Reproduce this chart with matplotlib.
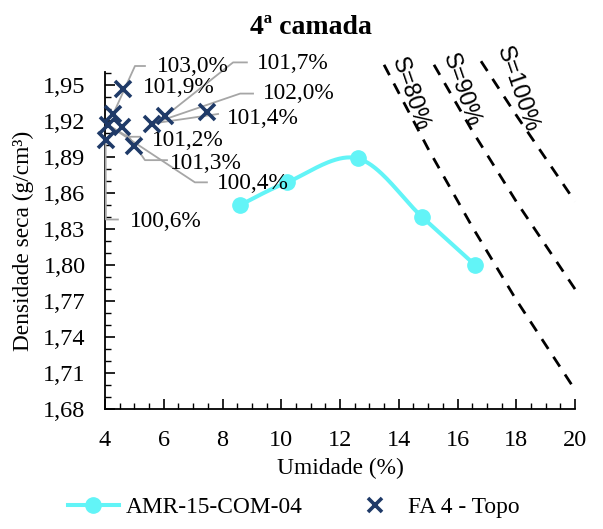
import numpy as np
import matplotlib
matplotlib.use("Agg")
import matplotlib.pyplot as plt
from matplotlib.ticker import MultipleLocator, FixedLocator, FuncFormatter
from matplotlib.lines import Line2D

# --- data -------------------------------------------------------------
# compaction curve (moisture %, dry density g/cm3)
amr_w = [8.6, 10.2, 12.6, 14.8, 16.6]
amr_d = [1.850, 1.869, 1.889, 1.840, 1.800]

# field points "FA 4 - Topo"
fa_w = [4.62, 4.28, 4.09, 4.59, 4.02, 5.00, 5.61, 6.04, 7.46]
fa_d = [1.947, 1.926, 1.917, 1.915, 1.904, 1.899, 1.918, 1.924, 1.928]

# degree-of-compaction labels: text, target point index, label position, leader elbow
fa_labels = ["101,9%", "103,0%", "101,7%", "102,0%", "101,4%",
             "101,2%", "101,3%", "100,4%", "100,6%"]
fa_label_target = [0, 1, 7, 6, 6, 2, 3, 2, 4]
fa_label_x = [5.29, 5.77, 9.16, 9.38, 8.14, 5.59, 6.21, 7.80, 4.85]
fa_label_y = [1.948, 1.966, 1.968, 1.943, 1.922, 1.904, 1.885, 1.868, 1.836]
fa_elbow_x0 = [None, 5.36, 8.83, 9.04, 7.85, 5.19, 6.11, 7.47, 4.44]
fa_elbow_x1 = [None, 5.02, 8.36, 8.60, 7.85, 4.78, 5.36, 7.06, 4.03]
fa_elbow_y = [None, 1.966, 1.969, 1.943, 1.926, 1.907, 1.8875, 1.869, 1.838]

# saturation lines
sat_names = ["S=80%", "S=90%", "S=100%"]
sat_w = [[13.5, 15.0, 16.5, 18.0, 20.0],
         [15.2, 16.5, 18.0, 20.0],
         [16.8, 18.0, 20.0]]
sat_d = [[1.967, 1.897, 1.832, 1.771, 1.696],
         [1.967, 1.912, 1.853, 1.780],
         [1.970, 1.925, 1.853]]
sat_label_x = [14.40, 16.12, 18.06]
sat_label_y = [1.943, 1.946, 1.947]

x_ticks = [4, 6, 8, 10, 12, 14, 16, 18, 20]
y_ticks = [1.68, 1.71, 1.74, 1.77, 1.80, 1.83, 1.86, 1.89, 1.92, 1.95]

title = "4ª camada"
xlabel = "Umidade (%)"
ylabel = "Densidade seca (g/cm³)"
series_names = ["AMR-15-COM-04", "FA 4 - Topo"]

# --- styles -----------------------------------------------------------
CYAN = "#62F4F7"
NAVY = "#1F3A68"
GRAY = "#A6A6A6"
SERIF = ["Liberation Serif", "DejaVu Serif"]
SANS = ["Liberation Sans", "DejaVu Sans"]
FS = 16.8

plt.rcParams["font.family"] = SERIF


def smooth(xs, ys, n=40):
    """Bezier smoothing through points (tension 1/6 control points)."""
    P = np.column_stack([xs, ys]).astype(float)
    out = []
    m = len(P)
    for i in range(m - 1):
        p0 = P[i - 1] if i > 0 else P[i]
        p1, p2 = P[i], P[i + 1]
        p3 = P[i + 2] if i + 2 < m else P[i + 1]
        c1 = p1 + (p2 - p0) / 6.0
        c2 = p2 - (p3 - p1) / 6.0
        t = np.linspace(0, 1, n)[:, None]
        seg = ((1 - t) ** 3) * p1 + 3 * ((1 - t) ** 2) * t * c1 + 3 * (1 - t) * t ** 2 * c2 + t ** 3 * p2
        out.append(seg if i == 0 else seg[1:])
    S = np.vstack(out)
    return S[:, 0], S[:, 1]


fig = plt.figure(figsize=(6.03, 5.29), dpi=100)
ax = fig.add_axes([105 / 603, 1 - 409 / 529, 470 / 603, 337 / 529])

ax.set_xlim(4, 20)
ax.set_ylim(1.68, 1.961)

# saturation lines
for w, d, name, lx, ly in zip(sat_w, sat_d, sat_names, sat_label_x, sat_label_y):
    ax.plot(w, d, color="black", lw=2.0, linestyle=(0, (4.2, 3.4)), clip_on=False, zorder=2)
    ax.text(lx, ly, name, rotation=-71, rotation_mode="anchor", ha="center", va="center",
            fontsize=FS, family=SANS, color="black", zorder=3)

# compaction curve
sx, sy = smooth(amr_w, amr_d)
ax.plot(sx, sy, color=CYAN, lw=2.9, zorder=4)
ax.plot(amr_w, amr_d, linestyle="none", marker="o", markersize=11, color=CYAN, zorder=5)

# leader lines and labels
for lab, tgt, lx, ly, ex0, ex1, ey in zip(fa_labels, fa_label_target, fa_label_x, fa_label_y,
                                          fa_elbow_x0, fa_elbow_x1, fa_elbow_y):
    if ex0 is not None:
        ax.plot([ex0, ex1, fa_w[tgt]], [ey, ey, fa_d[tgt]], color=GRAY, lw=1.3,
                clip_on=False, zorder=3)
    ax.text(lx, ly, lab, ha="left", va="center", fontsize=FS, color="black", zorder=6)

# field points
ax.plot(fa_w, fa_d, linestyle="none", marker="x", markersize=11, markeredgewidth=2.6,
        color=NAVY, zorder=7, clip_on=False)

# axes
for s in ["top", "right"]:
    ax.spines[s].set_visible(False)
for s in ["left", "bottom"]:
    ax.spines[s].set_linewidth(1.3)
    ax.spines[s].set_color("black")

ax.xaxis.set_major_locator(FixedLocator(x_ticks))
ax.xaxis.set_minor_locator(MultipleLocator(0.5))
ax.yaxis.set_major_locator(FixedLocator(y_ticks))
ax.yaxis.set_minor_locator(MultipleLocator(0.01))
ax.yaxis.set_major_formatter(FuncFormatter(lambda v, p: f"{v:.2f}".replace(".", ",")))
ax.xaxis.set_major_formatter(FuncFormatter(lambda v, p: f"{v:g}"))
ax.tick_params(axis="both", which="major", direction="in", length=7, width=1.2,
               labelsize=17.5, colors="black")
ax.tick_params(axis="both", which="minor", direction="in", length=4, width=1.0)
ax.tick_params(axis="x", which="major", pad=15)
ax.tick_params(axis="y", which="major", pad=14)

ax.set_xlabel(xlabel, fontsize=FS)
ax.xaxis.set_label_coords(0.5, -0.145)
ax.set_ylabel(ylabel, fontsize=FS)
ax.yaxis.set_label_coords(-0.152, 0.5)

fig.text(0.515, 1 - 28 / 529, title, ha="center", va="center", fontsize=20,
         fontweight="bold", family=SERIF)

handles = [
    Line2D([], [], color=CYAN, lw=2.9, marker="o", markersize=11),
    Line2D([], [], color=NAVY, linestyle="none", marker="x", markersize=10, markeredgewidth=2.6),
]
fig.legend(handles, series_names, loc="center", bbox_to_anchor=(0.487, 1 - 507 / 529),
           ncol=2, frameon=False, fontsize=FS, handlelength=2.2, columnspacing=2.0,
           handletextpad=0.3)

fig.savefig("out.png", dpi=100)
